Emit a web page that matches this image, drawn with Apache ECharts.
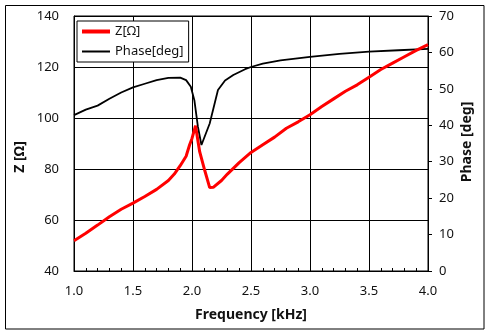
<!DOCTYPE html>
<html><head><meta charset="utf-8">
<script src="https://cdn.jsdelivr.net/npm/echarts@6/dist/echarts.min.js"></script>
<style>html,body{margin:0;padding:0;background:#fff}#c{width:490px;height:336px}</style>
</head><body><div id="c"></div>
<script>
// Frequency [kHz] and impedance Z [Ω]
const zFreq = [1.0,1.1,1.2,1.3,1.4,1.5,1.6,1.7,1.8,1.85,1.9,1.95,1.98,2.0,2.03,2.065,2.107,2.15,2.18,2.25,2.3,2.4,2.5,2.6,2.7,2.8,2.9,3.0,3.1,3.2,3.3,3.4,3.5,3.6,3.7,3.8,3.9,4.0];
const zValues = [51.9,54.8,58.0,61.3,64.2,66.6,69.2,72.0,75.5,78.0,81.3,85.0,89.5,92.0,97.0,86.8,79.6,72.7,72.8,75.5,78.0,82.5,86.5,89.5,92.5,96.0,98.5,101.3,104.5,107.5,110.5,113.0,116.0,119.0,121.5,124.0,126.5,128.8];
// Frequency [kHz] and phase [deg]
const phFreq = [1.0,1.1,1.2,1.3,1.4,1.5,1.6,1.7,1.8,1.9,1.95,1.99,2.02,2.05,2.08,2.15,2.22,2.28,2.35,2.45,2.5,2.6,2.75,3.0,3.25,3.5,3.75,4.0];
const phValues = [42.8,44.3,45.4,47.3,49.0,50.4,51.4,52.4,53.0,53.1,52.4,50.6,46.9,39.6,34.6,40.5,49.7,52.3,53.8,55.4,56.0,56.9,57.8,58.8,59.6,60.2,60.6,61.0];
const xTicks = ['1.0','1.5','2.0','2.5','3.0','3.5','4.0'];
const seriesNames = ['Z[Ω]','Phase[deg]'];
const axisTitles = {x:'Frequency [kHz]', yl:'Z [Ω]', yr:'Phase [deg]'};

const FONT = 'Noto Sans';
const TXT = '#111';
const chart = echarts.init(document.getElementById('c'), null, {renderer:'canvas'});
chart.setOption({
  animation:false,
  backgroundColor:'#fff',
  textStyle:{fontFamily:FONT},
  grid:{left:74, top:16, width:354, height:255, show:true, borderColor:'#000', borderWidth:1},
  legend:{
    left:77, top:21, orient:'vertical', padding:[4,5,4,5], itemGap:7,
    itemWidth:28, itemHeight:14,
    borderColor:'#000', borderWidth:1, backgroundColor:'#fff', borderRadius:0,
    textStyle:{fontFamily:FONT, fontSize:13, color:TXT},
    data:[
      {name:seriesNames[0], icon:'path://M0,0H28V4H0Z'},
      {name:seriesNames[1], icon:'path://M0,0H28V2H0Z'}
    ]
  },
  xAxis:{
    type:'value', min:1, max:4, interval:0.5,
    axisLine:{lineStyle:{color:'#000', width:1}},
    axisTick:{show:true, inside:true, length:3, lineStyle:{color:'#000'}},
    minorTick:{show:true, splitNumber:5, length:3, lineStyle:{color:'#000'}},
    splitLine:{show:true, lineStyle:{color:'#000', width:1}},
    axisLabel:{margin:14, fontSize:13, color:TXT, fontFamily:FONT,
      formatter:v=>{const s=v.toFixed(1); return xTicks.includes(s)?s:'';}}
  },
  yAxis:[
    {type:'value', min:40, max:140, interval:20, position:'left',
     axisLine:{show:true, lineStyle:{color:'#000'}},
     axisTick:{show:false},
     splitLine:{show:true, lineStyle:{color:'#000', width:1}},
     axisLabel:{margin:15, fontSize:13, color:TXT, fontFamily:FONT}},
    {type:'value', min:0, max:70, interval:10, position:'right',
     axisLine:{show:true, lineStyle:{color:'#000'}},
     axisTick:{show:true, inside:false, length:4, lineStyle:{color:'#000'}},
     splitLine:{show:false},
     axisLabel:{margin:11, fontSize:13, color:TXT, fontFamily:FONT}}
  ],
  series:[
    {name:seriesNames[0], type:'line', yAxisIndex:0, symbol:'none', z:3,
     lineStyle:{color:'#ff0000', width:3}, itemStyle:{color:'#ff0000'},
     data:zFreq.map((f,i)=>[f,zValues[i]])},
    {name:seriesNames[1], type:'line', yAxisIndex:1, symbol:'none', z:2,
     lineStyle:{color:'#000', width:1.8}, itemStyle:{color:'#000'},
     data:phFreq.map((f,i)=>[f,phValues[i]])}
  ],
  graphic:[
    {type:'rect', shape:{x:5.5, y:5.5, width:478.5, height:323.5}, style:{fill:null, stroke:'#000', lineWidth:1}, silent:true, z:-1},
    {type:'text', x:251, y:315, style:{text:axisTitles.x, font:'bold 14px "Noto Sans"', fill:TXT, align:'center', verticalAlign:'middle'}},
    {type:'text', x:20, y:157, rotation:Math.PI/2, style:{text:axisTitles.yl, font:'bold 14px "Noto Sans"', fill:TXT, align:'center', verticalAlign:'middle'}},
    {type:'text', x:467, y:142, rotation:Math.PI/2, style:{text:axisTitles.yr, font:'bold 14px "Noto Sans"', fill:TXT, align:'center', verticalAlign:'middle'}}
  ]
});
</script></body></html>
